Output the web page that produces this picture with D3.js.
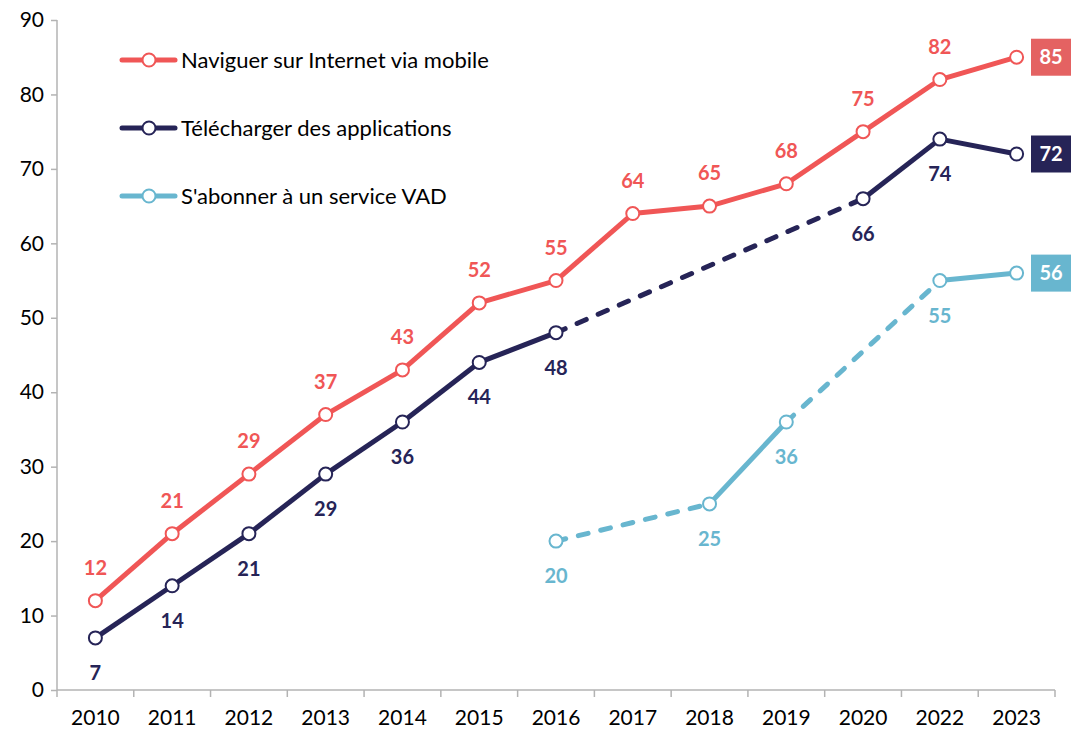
<!DOCTYPE html>
<html>
<head>
<meta charset="utf-8">
<script src="https://cdn.jsdelivr.net/npm/d3@7"></script>
<style>
  body { margin: 0; background: #fff; }
  svg { font-family: Lato, "Open Sans", sans-serif; }
</style>
</head>
<body>
<div id="vis"></div>
<script>
const years = ["2010", "2011", "2012", "2013", "2014", "2015", "2016", "2017", "2018", "2019", "2020", "2022", "2023"];
const naviguer = [12, 21, 29, 37, 43, 52, 55, 64, 65, 68, 75, 82, 85];
const telecharger = [7, 14, 21, 29, 36, 44, 48, null, null, null, 66, 74, 72];
const abonner = [null, null, null, null, null, null, 20, null, 25, 36, null, 55, 56];
const yTicks = [0, 10, 20, 30, 40, 50, 60, 70, 80, 90];

const series = [
  { name: "Naviguer sur Internet via mobile", values: naviguer, color: "#f05656", box: "#e46262", labelPos: "above" },
  { name: "Télécharger des applications", values: telecharger, color: "#262457", box: "#262457", labelPos: "below" },
  { name: "S'abonner à un service VAD", values: abonner, color: "#68b6cf", box: "#68b6cf", labelPos: "below" }
];

const width = 1071, height = 731;
const margin = { top: 20, right: 16, bottom: 41, left: 57 };
const fs = 21;

const svg = d3.select("#vis").append("svg")
  .attr("width", width)
  .attr("height", height);

const x = d3.scaleBand()
  .domain(years)
  .range([margin.left, width - margin.right]);

const y = d3.scaleLinear()
  .domain([0, 90])
  .range([height - margin.bottom, margin.top]);

const cx = d => x(d) + x.bandwidth() / 2;

// Y axis
const yAxis = svg.append("g")
  .attr("transform", "translate(" + margin.left + ",0)")
  .call(d3.axisLeft(y).tickValues(yTicks).tickSize(6).tickPadding(7));
yAxis.selectAll("line, path").attr("stroke", "#b3b3b3").attr("stroke-width", 1.5);
yAxis.select(".domain").attr("d", "M0," + y(90) + "V" + y(0));
yAxis.selectAll("text").attr("font-size", fs).attr("fill", "#000")
  .attr("font-family", "Lato, sans-serif");

// X axis
const xAxis = svg.append("g")
  .attr("transform", "translate(0," + y(0) + ")")
  .call(d3.axisBottom(x).tickSize(0).tickPadding(20));
xAxis.select(".domain").attr("stroke", "#b3b3b3").attr("stroke-width", 1.5)
  .attr("d", "M" + margin.left + ",0H" + (width - margin.right));
xAxis.selectAll("text").attr("font-size", fs).attr("fill", "#000")
  .attr("font-family", "Lato, sans-serif");
// tick marks at band boundaries
const bounds = years.map(d => x(d)).concat([x(years[years.length - 1]) + x.bandwidth()]);
xAxis.selectAll(".bound")
  .data(bounds)
  .enter()
  .append("line")
  .attr("x1", d => d).attr("x2", d => d)
  .attr("y1", 0).attr("y2", 7)
  .attr("stroke", "#b3b3b3").attr("stroke-width", 1.5);

const line = d3.line()
  .x(d => cx(d.year))
  .y(d => y(d.value));

series.forEach(function (s) {
  const pts = years.map((yr, i) => ({ year: yr, value: s.values[i], i: i }))
    .filter(d => d.value != null);

  // segments: solid between neighbours, dashed across gaps
  const segs = [];
  for (let k = 1; k < pts.length; k++) {
    segs.push({ a: pts[k - 1], b: pts[k], dashed: pts[k].i - pts[k - 1].i > 1 });
  }
  const g = svg.append("g");
  g.selectAll("path")
    .data(segs)
    .enter()
    .append("path")
    .attr("d", d => line([d.a, d.b]))
    .attr("fill", "none")
    .attr("stroke", s.color)
    .attr("stroke-width", 5)
    .attr("stroke-linecap", d => d.dashed ? "round" : "butt")
    .attr("stroke-dasharray", d => d.dashed ? "10,13" : null);

  g.selectAll("circle")
    .data(pts)
    .enter()
    .append("circle")
    .attr("cx", d => cx(d.year))
    .attr("cy", d => y(d.value))
    .attr("r", 6.5)
    .attr("fill", "#fff")
    .attr("stroke", s.color)
    .attr("stroke-width", 2);

  const last = pts[pts.length - 1];
  g.selectAll(".lbl")
    .data(pts.filter(d => d !== last))
    .enter()
    .append("text")
    .attr("x", d => cx(d.year))
    .attr("y", d => y(d.value) + (s.labelPos === "above" ? -33 : 35))
    .attr("dy", "0.35em")
    .attr("text-anchor", "middle")
    .attr("font-size", 20)
    .attr("font-weight", "bold")
    .attr("fill", s.color)
    .text(d => d.value);

  // end label box
  const bx = 1031, bw = 40, bh = 37;
  g.append("rect")
    .attr("x", bx)
    .attr("y", y(last.value) - bh / 2)
    .attr("width", bw)
    .attr("height", bh)
    .attr("fill", s.box);
  g.append("text")
    .attr("x", bx + bw / 2)
    .attr("y", y(last.value))
    .attr("dy", "0.36em")
    .attr("text-anchor", "middle")
    .attr("font-size", 20)
    .attr("font-weight", "bold")
    .attr("fill", "#fff")
    .text(last.value);
});

// Legend
const legend = svg.append("g");
series.forEach(function (s, i) {
  const ly = 60 + i * 68;
  legend.append("line")
    .attr("x1", 122).attr("x2", 175)
    .attr("y1", ly).attr("y2", ly)
    .attr("stroke", s.color).attr("stroke-width", 5)
    .attr("stroke-linecap", "round");
  legend.append("circle")
    .attr("cx", 149).attr("cy", ly).attr("r", 6.5)
    .attr("fill", "#fff").attr("stroke", s.color).attr("stroke-width", 2);
  legend.append("text")
    .attr("x", 181).attr("y", ly)
    .attr("dy", "0.35em")
    .attr("font-size", 22)
    .attr("fill", "#000")
    .text(s.name);
});
</script>
</body>
</html>
